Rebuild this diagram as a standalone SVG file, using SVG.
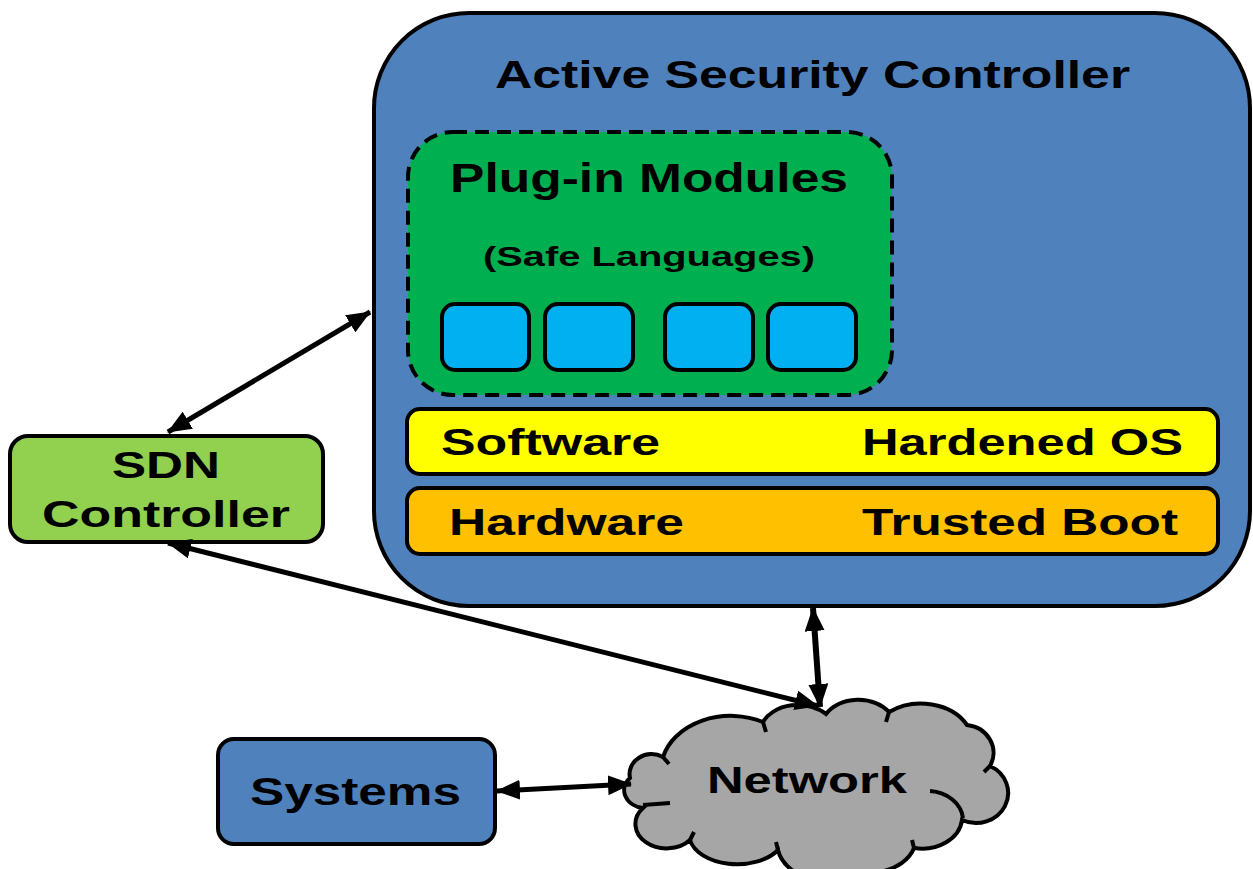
<svg xmlns="http://www.w3.org/2000/svg" width="1253" height="869" viewBox="0 0 1253 869">
<defs>
<marker id="ah" viewBox="0 0 24 20" refX="23" refY="10" markerWidth="24" markerHeight="20" markerUnits="userSpaceOnUse" orient="auto-start-reverse">
<path d="M0,0 L24,10 L0,20 Z" fill="#000"/>
</marker>
<style>
text{font-family:"Liberation Sans",Arial,sans-serif;font-weight:bold;fill:#000;}
.box{stroke:#000;stroke-width:4;}
.conn line{stroke:#000;stroke-width:5;marker-start:url(#ah);marker-end:url(#ah);}
</style>
</defs>
<rect width="1253" height="869" fill="#fff"/>
<g id="asc">
<rect class="box" x="374" y="13" width="876" height="593" rx="95" ry="95" fill="#4F81BD"/>
<text x="495" y="88" font-size="39" textLength="635" lengthAdjust="spacingAndGlyphs">Active Security Controller</text>
</g>
<g id="plugins">
<rect x="408" y="132" width="484" height="263" rx="45" ry="45" fill="#00B050" stroke="#000" stroke-width="4" stroke-dasharray="14 8"/>
<text x="450" y="192" font-size="40" textLength="398" lengthAdjust="spacingAndGlyphs">Plug-in Modules</text>
<text x="483" y="266" font-size="27" textLength="332" lengthAdjust="spacingAndGlyphs">(Safe Languages)</text>
<rect class="box" x="442" y="304" width="87" height="66" rx="13" fill="#00B0F0"/>
<rect class="box" x="545" y="304" width="88" height="66" rx="13" fill="#00B0F0"/>
<rect class="box" x="665" y="304" width="88" height="66" rx="13" fill="#00B0F0"/>
<rect class="box" x="768" y="304" width="88" height="66" rx="13" fill="#00B0F0"/>
</g>
<g id="software">
<rect class="box" x="407" y="409" width="811" height="65" rx="13" fill="#FFFF00"/>
<text x="441" y="455" font-size="37" textLength="219" lengthAdjust="spacingAndGlyphs">Software</text>
<text x="862" y="455" font-size="37" textLength="321" lengthAdjust="spacingAndGlyphs">Hardened OS</text>
</g>
<g id="hardware">
<rect class="box" x="407" y="488" width="811" height="66" rx="13" fill="#FFC000"/>
<text x="449" y="535" font-size="37" textLength="235" lengthAdjust="spacingAndGlyphs">Hardware</text>
<text x="862" y="535" font-size="37" textLength="316" lengthAdjust="spacingAndGlyphs">Trusted Boot</text>
</g>
<g id="sdn">
<rect class="box" x="10" y="436" width="313" height="106" rx="18" fill="#92D050"/>
<text x="112" y="478" font-size="36" textLength="108" lengthAdjust="spacingAndGlyphs">SDN</text>
<text x="42" y="527" font-size="36" textLength="248" lengthAdjust="spacingAndGlyphs">Controller</text>
</g>
<g id="systems">
<rect class="box" x="218" y="739" width="277" height="105" rx="16" fill="#4F81BD"/>
<text x="250" y="805" font-size="38" textLength="211" lengthAdjust="spacingAndGlyphs">Systems</text>
</g>
<g id="network">
<path class="box" fill="#A6A6A6" d="M630 778 A22 20 0 0 1 663 757 A70 55 0 0 1 763 722 A38 28 0 0 1 826 714 A38 30 0 0 1 889 712 A52 40 0 0 1 967 725 A30 28 0 0 1 990 766 A30 28 0 0 1 962 820 A40 32 0 0 1 914 848 A50 34 0 0 1 880 872 A60 40 0 0 1 778 850 A48 30 0 0 1 690 840 A28 22 0 0 1 643 808 A22 18 0 0 1 630 778 Z"/>
<path d="M930 791 A36 30 0 0 1 963 818 M763 722 L766 732 M663 757 L669 764 M990 766 L984 772 M643 805 L670 803 M690 840 L694 832 M778 850 L776 842 M914 848 L912 840 M889 712 L886 722" fill="none" stroke="#000" stroke-width="4"/>
<text x="707" y="793" font-size="36" textLength="200" lengthAdjust="spacingAndGlyphs">Network</text>
</g>
<g id="connectors" class="conn">
<line x1="168" y1="432" x2="370" y2="312"/>
<line x1="168" y1="543" x2="818" y2="706"/>
<line x1="813" y1="608" x2="820" y2="707" style="stroke-width:6"/>
<line x1="497" y1="791" x2="631" y2="784"/>
</g>
</svg>
